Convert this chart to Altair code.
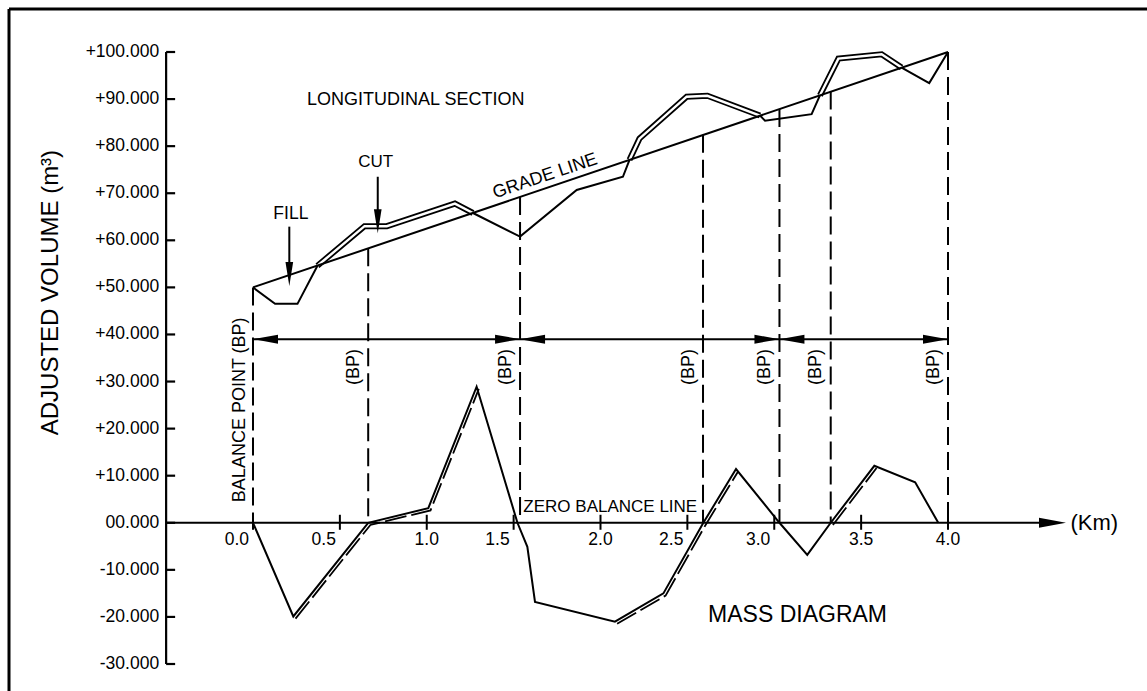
import altair as alt
import pandas as pd

W, H = 1147, 691
X_DOMAIN = [-1.4561, 5.1453]
Y_DOMAIN = [-35.735, 111.046]
FONT = "Liberation Sans"

# ---------------- values ----------------
y_tick_values = [-30, -20, -10, 0, 10, 20, 30, 40, 50, 60, 70, 80, 90, 100]
y_tick_labels = ["-30.000", "-20.000", "-10.000", "00.000", "+10.000", "+20.000", "+30.000",
                 "+40.000", "+50.000", "+60.000", "+70.000", "+80.000", "+90.000", "+100.000"]
x_tick_values = [0.0, 0.5, 1.0, 1.5, 2.0, 2.5, 3.0, 3.5, 4.0]
x_tick_labels = ["0.0", "0.5", "1.0", "1.5", "2.0", "2.5", "3.0", "3.5", "4.0"]
x_labels_left_of_tick = ["0.0", "0.5", "1.5", "2.5", "3.0"]

axis_y_min, axis_y_max = -30, 100
axis_x_start = -0.5
axis_x_arrow_tip = 4.679

grade_km = [0.0, 4.0]
grade_vol = [50.0, 100.0]

ground_km = [0.0, 0.127, 0.256, 0.371, 0.642, 0.770, 1.162, 1.266, 1.537, 1.863, 2.129, 2.167,
             2.224, 2.496, 2.615, 2.918, 2.947, 3.215, 3.263, 3.369, 3.618, 3.733, 3.892, 4.0]
ground_vol = [50.0, 46.5, 46.5, 54.6, 63.0, 63.0, 67.8, 65.8, 60.8, 70.7, 73.5, 77.1,
              81.6, 90.5, 90.7, 86.5, 85.4, 86.8, 90.8, 98.6, 99.5, 96.7, 93.4, 100.0]
cut_runs = [(3, 7), (11, 15), (18, 21)]          # index ranges drawn as double line (cut)

mass_km = [0.0, 0.232, 0.663, 1.009, 1.287, 1.522, 1.579, 1.623, 2.083, 2.362, 2.592, 2.780,
           3.030, 3.190, 3.325, 3.576, 3.811, 3.944]
mass_vol = [0.0, -19.9, 0.0, 3.1, 28.9, 0.0, -5.1, -16.8, -21.0, -15.0, 0.0, 11.4,
            0.0, -6.8, 0.0, 12.1, 8.6, 0.0]
mass_double_runs = [(1, 4), (8, 11), (14, 15)]

bp_km = [0.0, 0.663, 1.537, 2.590, 3.030, 3.325, 4.0]
bp_top_vol = [50.0, 58.3, 69.2, 82.4, 87.9, 91.6, 100.0]
bp_label_km = [0.663, 1.537, 2.590, 3.030, 3.325, 4.0]
bp_label_vol = 33.1

haul_level = 39.0
haul_from = [0.0, 1.537, 3.030]
haul_to = [1.537, 3.030, 4.0]

fill_arrow = {"km": 0.209, "top": 62.9, "tip": 50.3}
cut_arrow = {"km": 0.718, "top": 73.5, "tip": 61.5}

# ---------------- helpers ----------------
xs = alt.Scale(domain=X_DOMAIN, nice=False, zero=False)
ys = alt.Scale(domain=Y_DOMAIN, nice=False, zero=False)


def X(f):
    return alt.X(f, type="quantitative", scale=xs, axis=None)


def Y(f):
    return alt.Y(f, type="quantitative", scale=ys, axis=None)


def runs_df(km, vol, runs):
    rows = []
    for r, (a, b) in enumerate(runs):
        for i in range(a, b + 1):
            rows.append({"run": r, "order": i, "km": km[i], "vol": vol[i]})
    return pd.DataFrame(rows)


def complement(n, runs):
    out, start = [], 0
    for a, b in runs:
        if a > start:
            out.append((start, a))
        start = b
    if start < n - 1:
        out.append((start, n - 1))
    return out


def line_enc(base):
    return base.encode(x=X("km"), y=Y("vol"), detail="run:N", order="order:Q")


one = pd.DataFrame({"a": [0]})
layers = []

# frame (left and top border)
layers.append(alt.Chart(one).mark_rule(color="black", strokeWidth=3).encode(
    x=alt.value(9), x2=alt.value(W + 5), y=alt.value(9)))
layers.append(alt.Chart(one).mark_rule(color="black", strokeWidth=3).encode(
    x=alt.value(9), y=alt.value(9), y2=alt.value(H + 5)))

# y axis
layers.append(alt.Chart(pd.DataFrame({"km": [axis_x_start], "y1": [axis_y_min], "y2": [axis_y_max]}))
              .mark_rule(color="black", strokeWidth=2.2)
              .encode(x=X("km"), y=Y("y1"), y2="y2"))
ydf = pd.DataFrame({"km": axis_x_start, "vol": y_tick_values, "lab": y_tick_labels})
layers.append(alt.Chart(ydf).mark_rule(color="black", strokeWidth=2.2, x2Offset=9)
              .encode(x=X("km"), x2="km", y=Y("vol")))
layers.append(alt.Chart(ydf).mark_text(align="right", baseline="middle", dx=-7, fontSize=17.5,
                                       font=FONT, color="black")
              .encode(x=X("km"), y=Y("vol"), text="lab:N"))
layers.append(alt.Chart(pd.DataFrame({"km": [-1.163], "vol": [48.9], "t": ["ADJUSTED VOLUME (m³)"]}))
              .mark_text(angle=270, align="center", baseline="middle", fontSize=24, font=FONT,
                         color="black")
              .encode(x=X("km"), y=Y("vol"), text="t:N"))

# x (zero balance) axis with arrow
layers.append(alt.Chart(pd.DataFrame({"k1": [axis_x_start], "k2": [axis_x_arrow_tip - 0.08], "v": [0]}))
              .mark_rule(color="black", strokeWidth=2.2)
              .encode(x=X("k1"), x2="k2", y=Y("v")))
layers.append(alt.Chart(pd.DataFrame({"km": [axis_x_arrow_tip], "vol": [0]}))
              .mark_point(shape="M0,0L-1,-0.185L-1,0.185Z", size=2916, filled=True, opacity=1,
                          color="black", strokeWidth=0)
              .encode(x=X("km"), y=Y("vol")))
xdf = pd.DataFrame({"km": x_tick_values, "vol": 0, "lab": x_tick_labels})
xdf["left"] = xdf["lab"].isin(x_labels_left_of_tick)
layers.append(alt.Chart(xdf).mark_rule(color="black", strokeWidth=2, yOffset=-8, y2Offset=7)
              .encode(x=X("km"), y=Y("vol"), y2="vol"))
layers.append(alt.Chart(xdf[~xdf["left"]]).mark_text(align="center", baseline="middle", dy=17,
                                                      fontSize=17.5, font=FONT, color="black")
              .encode(x=X("km"), y=Y("vol"), text="lab:N"))
layers.append(alt.Chart(xdf[xdf["left"]]).mark_text(align="right", baseline="middle", dy=17, dx=-4,
                                                     fontSize=17.5, font=FONT, color="black")
              .encode(x=X("km"), y=Y("vol"), text="lab:N"))
layers.append(alt.Chart(pd.DataFrame({"km": [4.705], "vol": [0], "t": ["(Km)"]}))
              .mark_text(align="left", baseline="middle", fontSize=22, font=FONT, color="black")
              .encode(x=X("km"), y=Y("vol"), text="t:N"))

# longitudinal section: cut parts as double line
cut_df = runs_df(ground_km, ground_vol, cut_runs)
layers.append(line_enc(alt.Chart(cut_df).mark_line(color="black", strokeWidth=6,
                                                   strokeJoin="miter", strokeCap="butt")))
layers.append(line_enc(alt.Chart(cut_df).mark_line(color="white", strokeWidth=2.4,
                                                   strokeJoin="miter", strokeCap="butt")))
# grade line
layers.append(alt.Chart(pd.DataFrame({"km": grade_km, "vol": grade_vol, "run": 0, "order": [0, 1]}))
              .mark_line(color="black", strokeWidth=2).encode(x=X("km"), y=Y("vol")))
# fill parts single line
fill_df = runs_df(ground_km, ground_vol, complement(len(ground_km), cut_runs))
layers.append(line_enc(alt.Chart(fill_df).mark_line(color="black", strokeWidth=2, strokeJoin="miter")))

# balance point dashed verticals
bpdf = pd.DataFrame({"km": bp_km, "top": bp_top_vol, "bot": 0.0})
layers.append(alt.Chart(bpdf).mark_rule(color="black", strokeWidth=2, strokeDash=[18, 7])
              .encode(x=X("km"), y=Y("top"), y2="bot"))

# haul dimension line with arrowheads
layers.append(alt.Chart(pd.DataFrame({"k1": [haul_from[0]], "k2": [haul_to[-1]], "v": [haul_level]}))
              .mark_rule(color="black", strokeWidth=2)
              .encode(x=X("k1"), x2="k2", y=Y("v")))
layers.append(alt.Chart(pd.DataFrame({"km": haul_to, "vol": haul_level}))
              .mark_point(shape="M0,0L-1,-0.18L-1,0.18Z", size=2500, filled=True, opacity=1,
                          color="black", strokeWidth=0)
              .encode(x=X("km"), y=Y("vol")))
layers.append(alt.Chart(pd.DataFrame({"km": haul_from, "vol": haul_level}))
              .mark_point(shape="M0,0L1,-0.18L1,0.18Z", size=2500, filled=True, opacity=1,
                          color="black", strokeWidth=0)
              .encode(x=X("km"), y=Y("vol")))

# mass diagram
mass_df = pd.DataFrame({"km": mass_km, "vol": mass_vol, "run": 0, "order": range(len(mass_km))})
layers.append(line_enc(alt.Chart(mass_df).mark_line(color="black", strokeWidth=2, strokeJoin="miter")))
md_df = runs_df(mass_km, mass_vol, mass_double_runs)
layers.append(line_enc(alt.Chart(md_df).mark_line(color="black", strokeWidth=1.8, strokeDash=[22, 5],
                                                  xOffset=2.2, yOffset=2.2, strokeJoin="miter")))

# FILL / CUT arrows
for arr in (fill_arrow, cut_arrow):
    layers.append(alt.Chart(pd.DataFrame({"km": [arr["km"]], "top": [arr["top"]], "bot": [arr["tip"] + 2]}))
                  .mark_rule(color="black", strokeWidth=2)
                  .encode(x=X("km"), y=Y("top"), y2="bot"))
    layers.append(alt.Chart(pd.DataFrame({"km": [arr["km"]], "vol": [arr["tip"]]}))
                  .mark_point(shape="M0,0L-0.16,-1L0.16,-1Z", size=2304, filled=True, opacity=1,
                              color="black", strokeWidth=0)
                  .encode(x=X("km"), y=Y("vol")))


# texts
def text_layer(rows, **kw):
    df = pd.DataFrame(rows, columns=["t", "km", "vol"])
    base = dict(font=FONT, color="black", baseline="middle")
    base.update(kw)
    return alt.Chart(df).mark_text(**base).encode(x=X("km"), y=Y("vol"), text="t:N")


layers.append(text_layer([("LONGITUDINAL SECTION", 0.311, 89.7)], align="left", fontSize=18))
layers.append(text_layer([("CUT", 0.706, 76.6)], align="center", fontSize=17))
layers.append(text_layer([("FILL", 0.218, 65.5)], align="center", fontSize=17.5))
layers.append(text_layer([("GRADE LINE", 1.681, 73.6)], align="center", fontSize=18, angle=341.3))
layers.append(text_layer([("ZERO BALANCE LINE", 1.556, 3.35)], align="left", fontSize=17))
layers.append(text_layer([("MASS DIAGRAM", 3.134, -19.6)], align="center", fontSize=23))
layers.append(text_layer([("BALANCE POINT (BP)", bp_km[0], 24.0)], align="center", fontSize=18,
                         angle=270, dy=-12.5))
layers.append(text_layer([("(BP)", k, bp_label_vol) for k in bp_label_km], align="center",
                         fontSize=18, angle=270, dy=-14.5))

chart = alt.layer(*layers).properties(
    width=W, height=H,
    autosize=alt.AutoSizeParams(type="none"),
    padding=0,
    background="white",
).configure_view(stroke=None)

chart.save("out.html", embed_options={"renderer": "svg", "actions": False})
